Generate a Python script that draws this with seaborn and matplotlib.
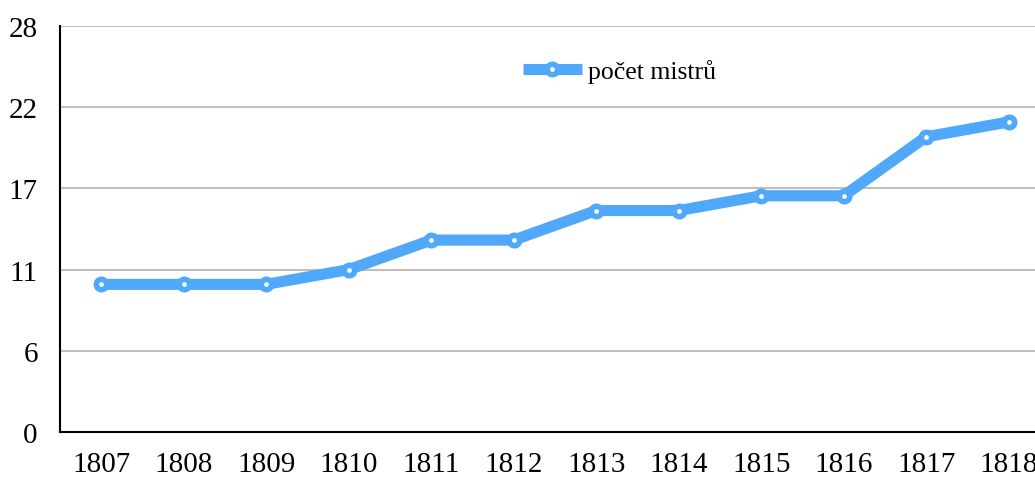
import seaborn as sns
import matplotlib.pyplot as plt
import pandas as pd

years = ['1807', '1808', '1809', '1810', '1811', '1812',
         '1813', '1814', '1815', '1816', '1817', '1818']
masters = [10, 10, 10, 11, 13, 13, 15, 15, 16, 16, 20, 21]
ytick_pos = [0, 5.5, 11, 16.5, 22, 27.5]
ytick_labels = ['0', '6', '11', '17', '22', '28']
label = 'počet mistrů'

df = pd.DataFrame({'rok': years, 'pocet': masters})

sns.set_style('white')
plt.rcParams['font.family'] = ['Liberation Serif', 'DejaVu Serif']

fig = plt.figure(figsize=(10.35, 4.81), dpi=100)
ax = fig.add_axes([60 / 1035, 48 / 481, 990 / 1035, 406 / 481])

blue = '#50a8fb'
sns.lineplot(data=df, x='rok', y='pocet', ax=ax, color=blue, linewidth=8,
             marker='o', markersize=7.5, markerfacecolor='white',
             markeredgecolor=blue, markeredgewidth=4, label=label,
             sort=False)

ax.set_xlim(-0.5, len(years) - 0.5)
ax.set_ylim(0, 27.5)
ax.set_yticks(ytick_pos)
ax.set_yticklabels(ytick_labels)
ax.grid(axis='y', color='#bfbfbf', linewidth=1.5)
ax.set_axisbelow(True)
ax.set_xlabel('')
ax.set_ylabel('')
for s in ['top', 'right']:
    ax.spines[s].set_visible(False)
for s in ['left', 'bottom']:
    ax.spines[s].set_color('black')
    ax.spines[s].set_linewidth(1.5)
ax.tick_params(axis='both', length=0, labelsize=21, colors='black')
ax.tick_params(axis='x', pad=14)
ax.tick_params(axis='y', pad=16)

leg = ax.legend(loc='center', bbox_to_anchor=(0.565, 0.89), frameon=False,
                fontsize=18.5, handlelength=2.3, handletextpad=0.25,
                labelcolor='black')
for h in leg.get_lines():
    h.set_solid_capstyle('butt')

fig.savefig('out.png', dpi=100)
